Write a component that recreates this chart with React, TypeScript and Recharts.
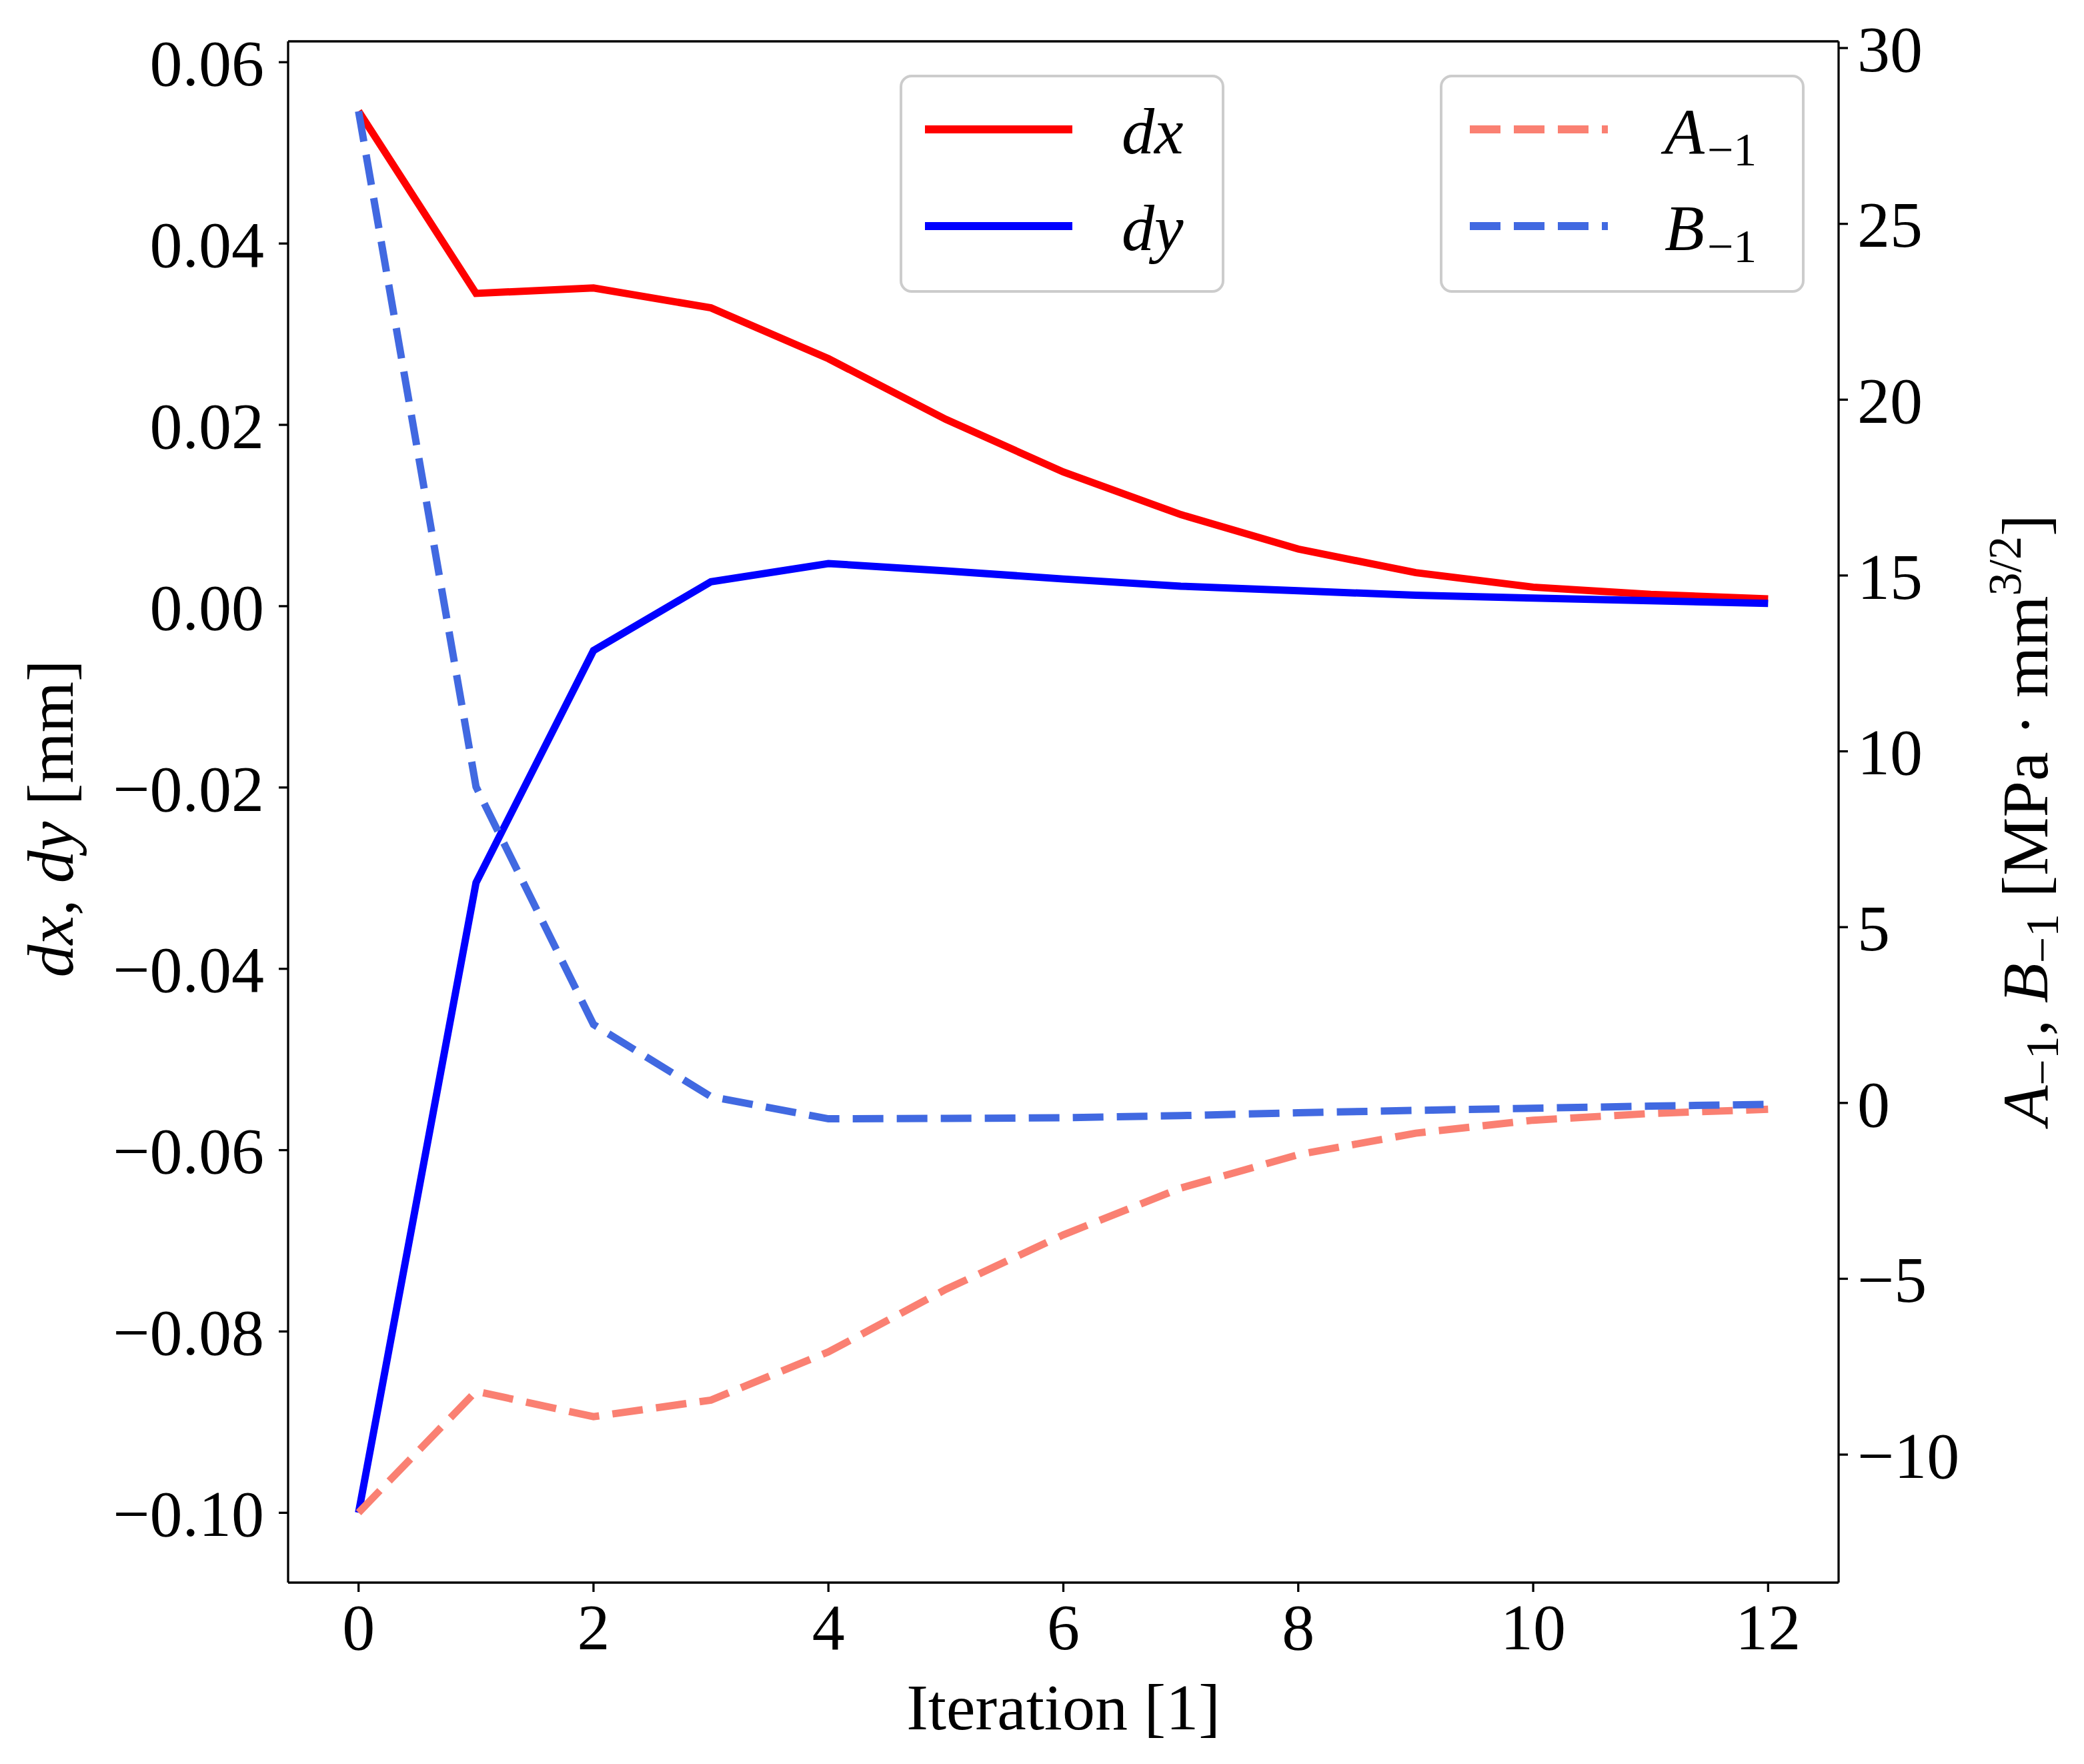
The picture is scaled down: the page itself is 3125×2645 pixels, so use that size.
import React from 'react';
import {
  LineChart,
  Line,
  XAxis,
  YAxis,
  Legend,
  Label,
  ReferenceLine,
} from 'recharts';

// iteration index and the four traced quantities
const iterations = [0, 1, 2, 3, 4, 5, 6, 7, 8, 9, 10, 11, 12];
const dxValues = [0.0546, 0.0345, 0.0351, 0.0329, 0.0273, 0.0206, 0.0148, 0.0101, 0.0063, 0.0037, 0.0021, 0.0013, 0.0008];
const dyValues = [-0.1, -0.0305, -0.0049, 0.0027, 0.0047, 0.0039, 0.003, 0.0022, 0.0017, 0.0012, 0.0009, 0.0006, 0.0003];
const aValues = [-11.65, -8.2, -8.92, -8.45, -7.08, -5.3, -3.75, -2.42, -1.47, -0.86, -0.49, -0.3, -0.18];
const bValues = [28.2, 8.99, 2.23, 0.18, -0.45, -0.44, -0.42, -0.36, -0.28, -0.21, -0.15, -0.09, -0.04];

const xTicks = [0, 2, 4, 6, 8, 10, 12];
const leftTicks = [-0.1, -0.08, -0.06, -0.04, -0.02, 0, 0.02, 0.04, 0.06];
const rightTicks = [-10, -5, 0, 5, 10, 15, 20, 25, 30];

const X_DOMAIN = [-0.6, 12.6];
const LEFT_DOMAIN = [-0.1077, 0.0623];
const RIGHT_DOMAIN = [-13.64, 30.19];

const RED = '#ff0000';
const BLUE = '#0000ff';
const SALMON = '#fa8072';
const ROYAL = '#4169e1';
const DASH = '46 20';
const LW = 11;

const FONT = '"Liberation Serif", "DejaVu Serif", serif';
const FS = 98;
const SUB = 70;

const W = 3125;
const H = 2645;

const data = iterations.map((it, i) => ({
  it,
  dx: dxValues[i],
  dy: dyValues[i],
  a: aValues[i],
  b: bValues[i],
}));

const minus = (s: string) => s.replace('-', '\u2212');
const tickStyle = { fontSize: FS, fill: '#000', fontFamily: FONT };

const LeftLabel = (props: any) => {
  const vb = props.viewBox || {};
  const x = vb.x + 109;
  const y = vb.y + vb.height / 2 + 10;
  return (
    <text x={x} y={y} transform={`rotate(-90 ${x} ${y})`} textAnchor="middle" fontFamily={FONT} fontSize={FS} fill="#000">
      <tspan fontStyle="italic">dx</tspan>
      <tspan>, </tspan>
      <tspan fontStyle="italic">dy</tspan>
      <tspan> [mm]</tspan>
    </text>
  );
};

const RightLabel = (props: any) => {
  const vb = props.viewBox || {};
  const x = vb.x + 313;
  const y = vb.y + vb.height / 2 + 12;
  return (
    <text x={x} y={y} transform={`rotate(-90 ${x} ${y})`} textAnchor="middle" fontFamily={FONT} fontSize={FS} fill="#000">
      <tspan fontStyle="italic">A</tspan>
      <tspan fontSize={SUB} dy={16}>{'\u22121'}</tspan>
      <tspan dy={-16}>, </tspan>
      <tspan fontStyle="italic">B</tspan>
      <tspan fontSize={SUB} dy={16}>{'\u22121'}</tspan>
      <tspan dy={-16}> [MPa · mm</tspan>
      <tspan fontSize={SUB} dy={-40}>3/2</tspan>
      <tspan dy={40}>]</tspan>
    </text>
  );
};

const BottomLabel = (props: any) => {
  const vb = props.viewBox || {};
  return (
    <text x={vb.x + vb.width / 2} y={vb.y + 220} textAnchor="middle" fontFamily={FONT} fontSize={FS} fill="#000">
      Iteration [1]
    </text>
  );
};

// two framed legend boxes like matplotlib's, one per axis
const legendBoxes = [
  {
    left: 1351, width: 483, lineX: 36, lineLen: 221, textX: 331,
    items: [
      { name: 'dx', color: RED, dash: undefined },
      { name: 'dy', color: BLUE, dash: undefined },
    ],
  },
  {
    left: 2161, width: 543, lineX: 43, lineLen: 207, textX: 335,
    items: [
      { name: 'A', color: SALMON, dash: DASH },
      { name: 'B', color: ROYAL, dash: DASH },
    ],
  },
];

const renderLegend = () => (
  <svg width={W} height={460} style={{ position: 'absolute', left: 0, top: 0, overflow: 'visible' }}>
    {legendBoxes.map((box, bi) => (
      <g key={bi} transform={`translate(${box.left}, 114)`}>
        <rect x={0} y={0} width={box.width} height={323} rx={16} ry={16} fill="rgba(255,255,255,0.8)" stroke="#cccccc" strokeWidth={4} />
        {box.items.map((item, ii) => (
          <g key={item.name} transform={`translate(0, ${ii * 145})`}>
            <line x1={box.lineX} x2={box.lineX + box.lineLen} y1={80} y2={80} stroke={item.color} strokeWidth={12} strokeDasharray={item.dash} />
            <text x={box.textX} y={116} fontFamily={FONT} fontSize={FS} fill="#000">
              <tspan fontStyle="italic">{item.name}</tspan>
              {bi === 1 && <tspan fontSize={SUB} dx={4} dy={18}>{'\u22121'}</tspan>}
            </text>
          </g>
        ))}
      </g>
    ))}
  </svg>
);

export default function App() {
  return (
    <div style={{ position: 'absolute', left: 0, top: 0, background: '#fff' }}>
      <LineChart width={W} height={H} data={data} margin={{ top: 62, right: 0, left: 0, bottom: 0 }}>
        <XAxis
          xAxisId="bottom"
          dataKey="it"
          type="number"
          domain={X_DOMAIN}
          ticks={xTicks}
          allowDataOverflow
          height={272}
          stroke="#000"
          strokeWidth={3.3}
          tickSize={14}
          tickMargin={16}
          tick={tickStyle}
          tickLine={{ stroke: '#000', strokeWidth: 3.3 }}
        >
          <Label content={BottomLabel} />
        </XAxis>
        <YAxis
          yAxisId="left"
          orientation="left"
          type="number"
          domain={LEFT_DOMAIN}
          ticks={leftTicks}
          allowDataOverflow
          width={432}
          stroke="#000"
          strokeWidth={3.3}
          tickSize={14}
          tickMargin={22}
          tick={tickStyle}
          tickLine={{ stroke: '#000', strokeWidth: 3.3 }}
          tickFormatter={(v: number) => minus(v.toFixed(2))}
        >
          <Label content={LeftLabel} />
        </YAxis>
        <YAxis
          yAxisId="right"
          orientation="right"
          type="number"
          domain={RIGHT_DOMAIN}
          ticks={rightTicks}
          allowDataOverflow
          width={368}
          stroke="#000"
          strokeWidth={3.3}
          tickSize={14}
          tickMargin={14}
          tick={tickStyle}
          tickLine={{ stroke: '#000', strokeWidth: 3.3 }}
          tickFormatter={(v: number) => minus(String(v))}
        >
          <Label content={RightLabel} />
        </YAxis>
        {/* top spine of the box */}
        <ReferenceLine xAxisId="bottom" yAxisId="left" y={LEFT_DOMAIN[1]} stroke="#000" strokeWidth={3.3} ifOverflow="visible" />
        <Legend
          layout="horizontal"
          verticalAlign="middle"
          align="center"
          content={renderLegend}
          wrapperStyle={{ position: 'absolute', left: 0, top: 0, width: W, height: 0 }}
        />
        <Line xAxisId="bottom" yAxisId="left" type="linear" dataKey="dx" stroke={RED} strokeWidth={LW} dot={false} isAnimationActive={false} />
        <Line xAxisId="bottom" yAxisId="left" type="linear" dataKey="dy" stroke={BLUE} strokeWidth={LW} dot={false} isAnimationActive={false} />
        <Line xAxisId="bottom" yAxisId="right" type="linear" dataKey="a" stroke={SALMON} strokeWidth={LW} strokeDasharray={DASH} dot={false} isAnimationActive={false} />
        <Line xAxisId="bottom" yAxisId="right" type="linear" dataKey="b" stroke={ROYAL} strokeWidth={LW} strokeDasharray={DASH} dot={false} isAnimationActive={false} />
      </LineChart>
    </div>
  );
}
